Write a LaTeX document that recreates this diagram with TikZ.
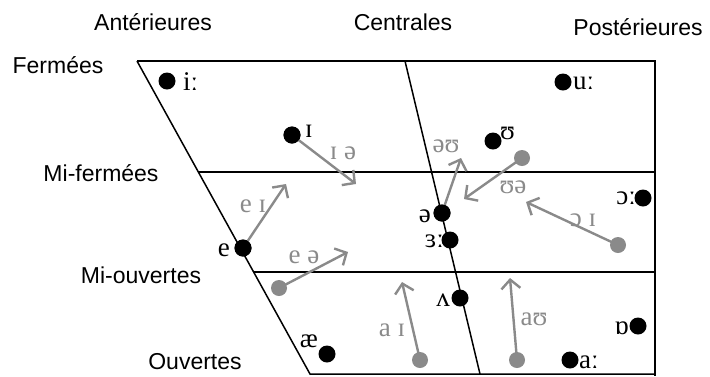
\documentclass[tikz,border=0pt]{standalone}
\usepackage{fontspec}
\setmainfont{Liberation Serif}
\newfontfamily\labfont{Liberation Sans}
\usetikzlibrary{arrows.meta}
\definecolor{arrgray}{HTML}{8A8A8A}
\tikzset{
  frame/.style={line width=1.5pt, black},
  bdot/.style={circle, fill=black, inner sep=0pt, minimum size=17pt},
  gdot/.style={circle, fill=arrgray, inner sep=0pt, minimum size=16pt},
  ipa/.style={font=\fontsize{27}{27}\selectfont, inner sep=0pt, text=black},
  gipa/.style={font=\fontsize{27}{27}\selectfont, inner sep=0pt, text=arrgray},
  cat/.style={font=\labfont\fontsize{23}{23}\selectfont, inner sep=0pt},
  glide/.style={draw=arrgray, line width=2.4pt, -{Straight Barb[length=9pt,width=19pt,line width=2.4pt]}}
}
\begin{document}
\begin{tikzpicture}[x=1pt,y=-1pt]
\useasboundingbox (0,0) rectangle (710,376);
% frame
\coordinate (tl) at (137,61);
\coordinate (tr) at (655,61);
\coordinate (br) at (655,376);
\coordinate (bl) at (310,374);
\coordinate (brb) at (655,374);
\coordinate (ct) at (405,61);
\coordinate (cb) at (480,374);
\coordinate (m1l) at (199,172);
\coordinate (m1r) at (655,172);
\coordinate (m2l) at (254,272);
\coordinate (m2r) at (655,272);
\draw[frame] (tl) -- (tr) -- (br);
\draw[frame] (tl) -- (bl) -- (brb);
\draw[frame] (ct) -- (cb);
\draw[frame] (m1l) -- (m1r);
\draw[frame] (m2l) -- (m2r);
% category labels
\node[cat] (ant) at (153,22) {Antérieures};
\node[cat] (cen) at (403,22) {Centrales};
\node[cat] (post) at (638,27) {Postérieures};
\node[cat] (ferm) at (58,65) {Fermées};
\node[cat] (mif) at (101,173) {Mi-fermées};
\node[cat] (mio) at (141,275) {Mi-ouvertes};
\node[cat] (ouv) at (195,362) {Ouvertes};
% black dots (monophthongs)
\node[bdot] (i) at (167,81) {};
\node[ipa, anchor=west] (il) at (183,82) {iː};
\node[bdot] (I) at (292,135) {};
\node[ipa, anchor=west] (Il) at (305,131) {ɪ};
\node[bdot] (u) at (563,82) {};
\node[ipa, anchor=west] (ul) at (573,83) {uː};
\node[bdot] (U) at (493,141) {};
\node[ipa, anchor=west] (Ul) at (500,133) {ʊ};
\node[bdot] (e) at (243,248) {};
\node[ipa, anchor=east] (el) at (230,250) {e};
\node[bdot] (schwa) at (442,213) {};
\node[ipa, anchor=east] (schwal) at (431,216) {ə};
\node[bdot] (er) at (450,240) {};
\node[ipa, anchor=east] (erl) at (444,241) {ɜː};
\node[bdot] (or) at (643,198) {};
\node[ipa, anchor=east] (orl) at (636,198) {ɔː};
\node[bdot] (V) at (460,298) {};
\node[ipa, anchor=east] (Vl) at (450,300) {ʌ};
\node[bdot] (ae) at (327,354) {};
\node[ipa] (ael) at (309,341) {æ};
\node[bdot] (O) at (638,326) {};
\node[ipa, anchor=east] (Ol) at (629,328) {ɒ};
\node[bdot] (ar) at (570,360) {};
\node[ipa, anchor=west] (arl) at (579,362) {aː};
% diphthongs
\node[gdot] (eo) at (279,288) {};
\node[gdot] (Uo) at (522,158) {};
\node[gdot] (oo) at (618,245) {};
\node[gdot] (aio) at (420,360) {};
\node[gdot] (auo) at (517,360) {};
\coordinate (Iet) at (356,184);
\coordinate (eIt) at (286,184);
\coordinate (eet) at (348,252);
\coordinate (oUt) at (461,158);
\coordinate (Uet) at (464,199);
\coordinate (oIt) at (526,202);
\coordinate (aIt) at (402,282);
\coordinate (aUt) at (510,278);
\draw[glide] (I.center) -- (Iet);
\draw[glide] (e.center) -- (eIt);
\draw[glide] (eo.center) -- (eet);
\draw[glide] (schwa.center) -- (oUt);
\draw[glide] (Uo.center) -- (Uet);
\draw[glide] (oo.center) -- (oIt);
\draw[glide] (aio.center) -- (aIt);
\draw[glide] (auo.center) -- (aUt);
\node[bdot] at (I) {};
\node[bdot] at (e) {};
\node[bdot] at (schwa) {};
\node[gipa] (Iel) at (343,153) {ɪ ə};
\node[gipa] (eIl) at (253,206) {e ɪ};
\node[gipa] (eel) at (304,257) {e ə};
\node[gipa] (oUl) at (446,146) {əʊ};
\node[gipa] (Uel) at (513,187) {ʊə};
\node[gipa] (oIl) at (583,220) {ɔ ɪ};
\node[gipa] (aIl) at (392,330) {a ɪ};
\node[gipa] (aUl) at (534,319) {aʊ};
\end{tikzpicture}
\end{document}
